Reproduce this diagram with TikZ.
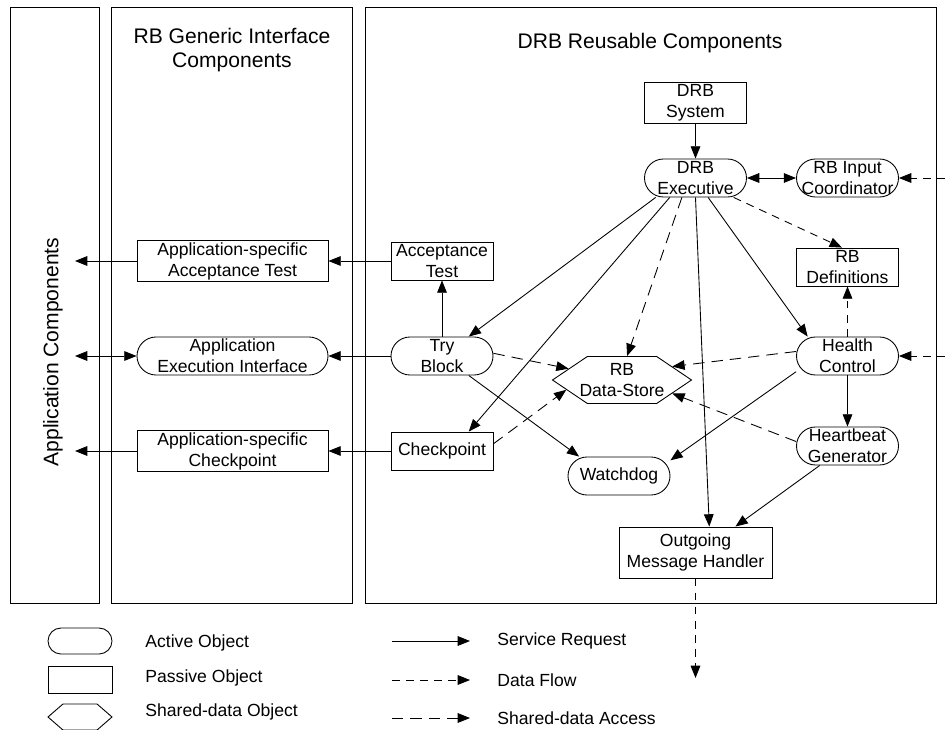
\documentclass[tikz,border=0pt]{standalone}
\usepackage{fontspec}
\setmainfont{Liberation Sans}
\usetikzlibrary{shapes.symbols,arrows.meta}

\begin{document}
\begin{tikzpicture}[x=0.2mm,y=-0.2mm,line width=0.5pt,
  >={Triangle[length=7pt,width=5.5pt]},
  font=\fontsize{10}{12}\selectfont,
  actobj/.style={draw,rectangle,rounded corners=3.8mm,minimum width=20.4mm,minimum height=7.6mm,
    inner sep=0pt,align=center},
  pasobj/.style={draw,rectangle,minimum width=20.4mm,minimum height=7.6mm,
    inner sep=1pt,align=center},
  shobj/.style={draw,signal,signal to=east and west,signal pointer angle=68,
    minimum width=27.8mm,minimum height=9.4mm,inner xsep=-1.7mm,inner ysep=0pt,align=center},
  svcreq/.style={->},
  dflow/.style={->,dash pattern=on 4.5pt off 3.5pt},
  daccess/.style={->,dash pattern=on 6.5pt off 4pt},
  title/.style={font=\fontsize{12}{13.5}\selectfont,align=center}]

\useasboundingbox (0,0) rectangle (945,730);

% Panels
\draw (10,7) rectangle (99,603);
\draw (111,7) rectangle (352,603);
\draw (365,7) rectangle (936,603);

% Panel titles
\node[title,rotate=90] (apptitle) at (53,352) {Application Components};
\node[title] (gentitle) at (232,50) {RB Generic Interface\\Components};
\node[title] (drbtitle) at (650,43) {DRB Reusable Components};

% Generic interface components
\node[pasobj,minimum width=38.2mm] (appacc) at (232.5,261) {Application-specific\\Acceptance Test};
\node[actobj,minimum width=38.2mm] (appexe) at (232.5,356) {Application\\Execution Interface};
\node[pasobj,minimum width=38.2mm] (appchk) at (232.5,451) {Application-specific\\Checkpoint};

% DRB reusable components
\node[pasobj] (drbsys) at (695.5,103) {DRB\\System};
\node[actobj] (drbexe) at (695.5,178) {DRB\\Executive};
\node[actobj] (inpcoord) at (847.5,178) {RB Input\\Coordinator};
\node[pasobj] (rbdefs) at (847.5,267) {RB\\Definitions};
\node[pasobj] (acctest) at (442,261) {Acceptance\\Test};
\node[actobj] (tryblk) at (442,356) {Try\\Block};
\node[shobj] (store) at (622,380) {RB\\Data-Store};
\node[actobj] (health) at (847.5,356) {Health\\Control};
\node[pasobj] (chkpt) at (442,451) {Checkpoint};
\node[actobj] (hbeat) at (847.5,446) {Heartbeat\\Generator};
\node[actobj] (wdog) at (619,476) {Watchdog};
\node[pasobj,minimum width=30.6mm,minimum height=10.2mm] (outmsg) at (695.5,552.5) {Outgoing\\Message Handler};

% Free ends
\coordinate (appA) at (75,261);
\coordinate (appE) at (75,356);
\coordinate (appC) at (75,451);
\coordinate (extin) at (945,178);
\coordinate (exthc) at (945,356);
\coordinate (extout) at (695.5,678);

% Service requests
\draw[svcreq] (drbsys) -- (drbexe);
\draw[svcreq,<->] (drbexe) -- (inpcoord);
\draw[svcreq] (drbexe.206) -- (tryblk.36);
\draw[svcreq] (drbexe.217) -- (chkpt.36);
\draw[svcreq] (drbexe.south) -- (outmsg.62);
\draw[svcreq] (drbexe.-57) -- (health.154);
\draw[svcreq] (health) -- (hbeat);
\draw[svcreq] (health.197) -- (wdog.17);
\draw[svcreq] (hbeat.215) -- (outmsg.33);
\draw[svcreq] (tryblk) -- (acctest);
\draw[svcreq] (tryblk.-36) -- (wdog.154);
\draw[svcreq] (tryblk) -- (appexe);
\draw[svcreq] (acctest) -- (appacc);
\draw[svcreq] (chkpt) -- (appchk);
\draw[svcreq] (appacc) -- (appA);
\draw[svcreq,<->] (appexe) -- (appE);
\draw[svcreq] (appchk) -- (appC);

% Data flows
\draw[dflow] (drbexe.-27) -- (rbdefs.106);
\draw[dflow] (health) -- (rbdefs);
\draw[dflow] (extin) -- (inpcoord);
\draw[dflow] (exthc) -- (health);
\draw[dflow] (outmsg) -- (extout);

% Shared-data accesses
\draw[daccess] (drbexe.235) -- (store.78);
\draw[daccess] (tryblk.3) -- (store.168);
\draw[daccess] (chkpt.8) -- (store.190);
\draw[daccess] (health.175) -- (store.15);
\draw[daccess] (hbeat.175) -- (store.-15);

% Legend
\node[actobj,rounded corners=2.6mm,minimum width=12.8mm,minimum height=5.2mm] (legact) at (80,641) {};
\node[pasobj,minimum width=12.8mm,minimum height=5.4mm] (legpas) at (80,679.5) {};
\node[shobj,minimum width=12.8mm,minimum height=5.2mm,signal pointer angle=82] (legsh) at (80,717) {};
\node[anchor=west,inner sep=0pt] (legacttxt) at (145,643) {Active Object};
\node[anchor=west,inner sep=0pt] (legpastxt) at (145,678) {Passive Object};
\node[anchor=west,inner sep=0pt] (legshtxt) at (145,712) {Shared-data Object};
\foreach \y/\sty/\txt in {641/svcreq/Service Request, 680/dflow/Data Flow, 718/daccess/Shared-data Access} {
  \coordinate (lega\y) at (392,\y);
  \coordinate (legb\y) at (470,\y);
  \draw[\sty] (lega\y) -- (legb\y);
  \node[anchor=west,inner sep=0pt] (legtxt\y) at (497,\y) {\txt};
}

\end{tikzpicture}
\end{document}
